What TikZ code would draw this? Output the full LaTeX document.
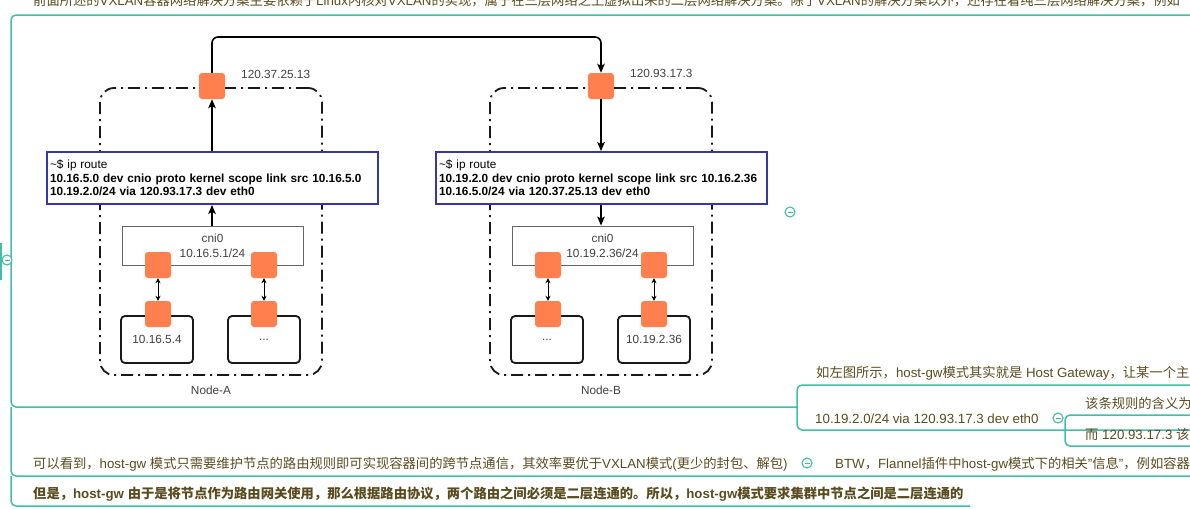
\documentclass[tikz,border=0pt]{standalone}
\usepackage{fontspec}
\setmainfont{Liberation Sans}
\newfontfamily\cjk{Noto Sans CJK SC}
\usetikzlibrary{arrows.meta}
\definecolor{mmtext}{HTML}{5A4B1E}
\definecolor{mmline}{HTML}{40BFA5}
\definecolor{veth}{HTML}{FF7F4F}
\definecolor{routeblue}{HTML}{3636A8}
\newcommand\zh[1]{{\cjk #1}}
\newcommand\dfont{\fontsize{11.8}{15}\selectfont}

\begin{document}
\begin{tikzpicture}[x=1pt,y=-1pt,
  mmtxt/.style={text=mmtext, font=\fontsize{13.3}{16}\selectfont, inner sep=0, anchor=west},
  mmpath/.style={draw=mmline, line width=1.5pt, rounded corners=5pt},
  fold/.style={circle, draw=mmline, fill=white, line width=1.1pt, minimum size=10pt, inner sep=0,
    path picture={\draw[mmline!70!gray, line width=1pt]
      ([xshift=-2.5pt]path picture bounding box.center) -- ([xshift=2.5pt]path picture bounding box.center);}},
  nodeframe/.style={draw=black!90, line width=1.8pt, dash pattern=on 12pt off 5pt on 2pt off 5pt,
    rounded corners=14pt, minimum width=222pt, minimum height=287pt, inner sep=0},
  vethbox/.style={fill=veth, rounded corners=3pt, minimum size=26pt, inner sep=0},
  routebox/.style={draw=routeblue, line width=1.8pt, fill=white, inner sep=3pt, align=left,
    text width=325pt, minimum height=52pt, font=\fontsize{11.8}{13.5}\selectfont, text=black},
  bridgebox/.style={draw=black!60, line width=0.8pt, fill=white, minimum width=181pt, minimum height=39pt,
    align=center, font=\dfont, text=black!75, inner sep=0},
  podbox/.style={draw=black!90, line width=1.8pt, fill=white, rounded corners=4pt, minimum width=72pt,
    minimum height=47pt, font=\dfont, text=black!75, inner sep=0},
  lbl/.style={font=\dfont, text=black!75, inner sep=0},
  flow/.style={line width=1.6pt, -{Stealth[length=9pt,width=7.5pt,inset=2pt]}},
  pair/.style={line width=0.8pt, {Stealth[length=5pt,width=5pt]}-{Stealth[length=5pt,width=5pt]}}
]
\useasboundingbox (0,0) rectangle (1190,509);
\clip (0,0) rectangle (1190,509);

% ---------- mind-map frame lines ----------
\draw[mmline, line width=2.5pt] (1,243) -- (1,280);
\draw[mmpath] (1195,15) -- (11,15) -- (11,407) -- (797,407);
\draw[mmpath] (11,407) -- (11,476) -- (1195,476);
\draw[mmpath] (11,476) -- (11,506) -- (970,506);
\draw[mmpath] (1195,385) -- (797,385) -- (797,430) -- (1195,430);
\draw[mmpath] (1195,415) -- (1065,415) -- (1065,446) -- (1195,446);

\node[fold] (foldRoot) at (7,260) {};
\node[fold] (foldImage) at (790,212) {};
\node[fold] (foldRule) at (1058,418) {};
\node[fold] (foldSummary) at (807,463) {};

% ---------- mind-map texts ----------
\node[mmtxt, anchor=base west] (intro) at (33,5.5)
  {\zh{前面所述的}VXLAN\zh{容器网络解决方案主要依赖于}Linux\zh{内核对}VXLAN\zh{的实现，属于在三层网络之上虚拟出来的二层网络解决方案。除了}VXLAN\zh{的解决方案以外，还存在着纯三层网络解决方案，例如}};
\node[mmtxt] (hostgw) at (816,373)
  {\zh{如左图所示，}host-gw\zh{模式其实就是} Host Gateway\zh{，让某一个主}};
\node[mmtxt] (rule) at (815,419) {10.19.2.0/24 via 120.93.17.3 dev eth0};
\node[mmtxt] (ruleMeaning) at (1085,403) {\zh{该条规则的含义为}};
\node[mmtxt] (ruleNext) at (1085,434) {\zh{而} 120.93.17.3 \zh{该}};
\node[mmtxt] (summary) at (33,464)
  {\zh{可以看到，}host-gw \zh{模式只需要维护节点的路由规则即可实现容器间的跨节点通信，其效率要优于}VXLAN\zh{模式}(\zh{更少的封包、解包})};
\node[mmtxt] (btw) at (835,464)
  {BTW\zh{，}Flannel\zh{插件中}host-gw\zh{模式下的相关}"\zh{信息}"\zh{，例如容器}};
\node[mmtxt, font=\fontsize{13.3}{16}\selectfont\bfseries] (caveat) at (33,494)
  {\zh{但是，}host-gw \zh{由于是将节点作为路由网关使用，那么根据路由协议，两个路由之间必须是二层连通的。所以，}host-gw\zh{模式要求集群中节点之间是二层连通的}};

% ---------- Node-A ----------
\node[nodeframe] (frameA) at (211,231.5) {};
\node[lbl] (nameA) at (211,390) {Node-A};
\node[vethbox] (ethA) at (212,86) {};
\node[lbl, anchor=west] (ipA) at (241,74) {120.37.25.13};
\node[routebox] (routeA) at (212.5,178)
  {\textasciitilde\$ ip route\\
   \textbf{10.16.5.0 dev cnio proto kernel scope link src 10.16.5.0}\\
   \textbf{10.19.2.0/24 via 120.93.17.3 dev eth0}};
\node[bridgebox] (cniA) at (212.5,245.5) {cni0\\10.16.5.1/24};
\node[podbox] (podA1) at (157,339.5) {10.16.5.4};
\node[podbox] (podA2) at (264,339.5) {...};
\node[vethbox] (brA1) at (158,265) {};
\node[vethbox] (brA2) at (264,265) {};
\node[vethbox] (ctA1) at (158,314) {};
\node[vethbox] (ctA2) at (264,314) {};

\draw[flow] (routeA.north -| ethA) -- (ethA.south);
\draw[flow] (cniA.north -| ethA) -- (routeA.south -| ethA);
\draw[pair] (brA1.south) -- (ctA1.north);
\draw[pair] (brA2.south) -- (ctA2.north);

% ---------- Node-B ----------
\node[nodeframe] (frameB) at (601,231.5) {};
\node[lbl] (nameB) at (601,390) {Node-B};
\node[vethbox] (ethB) at (601,86) {};
\node[lbl, anchor=west] (ipB) at (630,73) {120.93.17.3};
\node[routebox] (routeB) at (601.5,178)
  {\textasciitilde\$ ip route\\
   \textbf{10.19.2.0 dev cnio proto kernel scope link src 10.16.2.36}\\
   \textbf{10.16.5.0/24 via 120.37.25.13 dev eth0}};
\node[bridgebox] (cniB) at (602.5,245.5) {cni0\\10.19.2.36/24};
\node[podbox] (podB1) at (547,339.5) {...};
\node[podbox] (podB2) at (654,339.5) {10.19.2.36};
\node[vethbox] (brB1) at (548,265) {};
\node[vethbox] (brB2) at (654,265) {};
\node[vethbox] (ctB1) at (548,314) {};
\node[vethbox] (ctB2) at (654,314) {};

\draw[flow] (ethB.south) -- (routeB.north -| ethB);
\draw[flow] (routeB.south -| ethB) -- (cniB.north -| ethB);
\draw[pair] (brB1.south) -- (ctB1.north);
\draw[pair] (brB2.south) -- (ctB2.north);

% ---------- host-to-host link ----------
\coordinate (linkTop) at (0,37);
\draw[flow, rounded corners=6pt] (ethA.north) -- (ethA.north |- linkTop) -| (ethB.north);
\end{tikzpicture}
\end{document}
